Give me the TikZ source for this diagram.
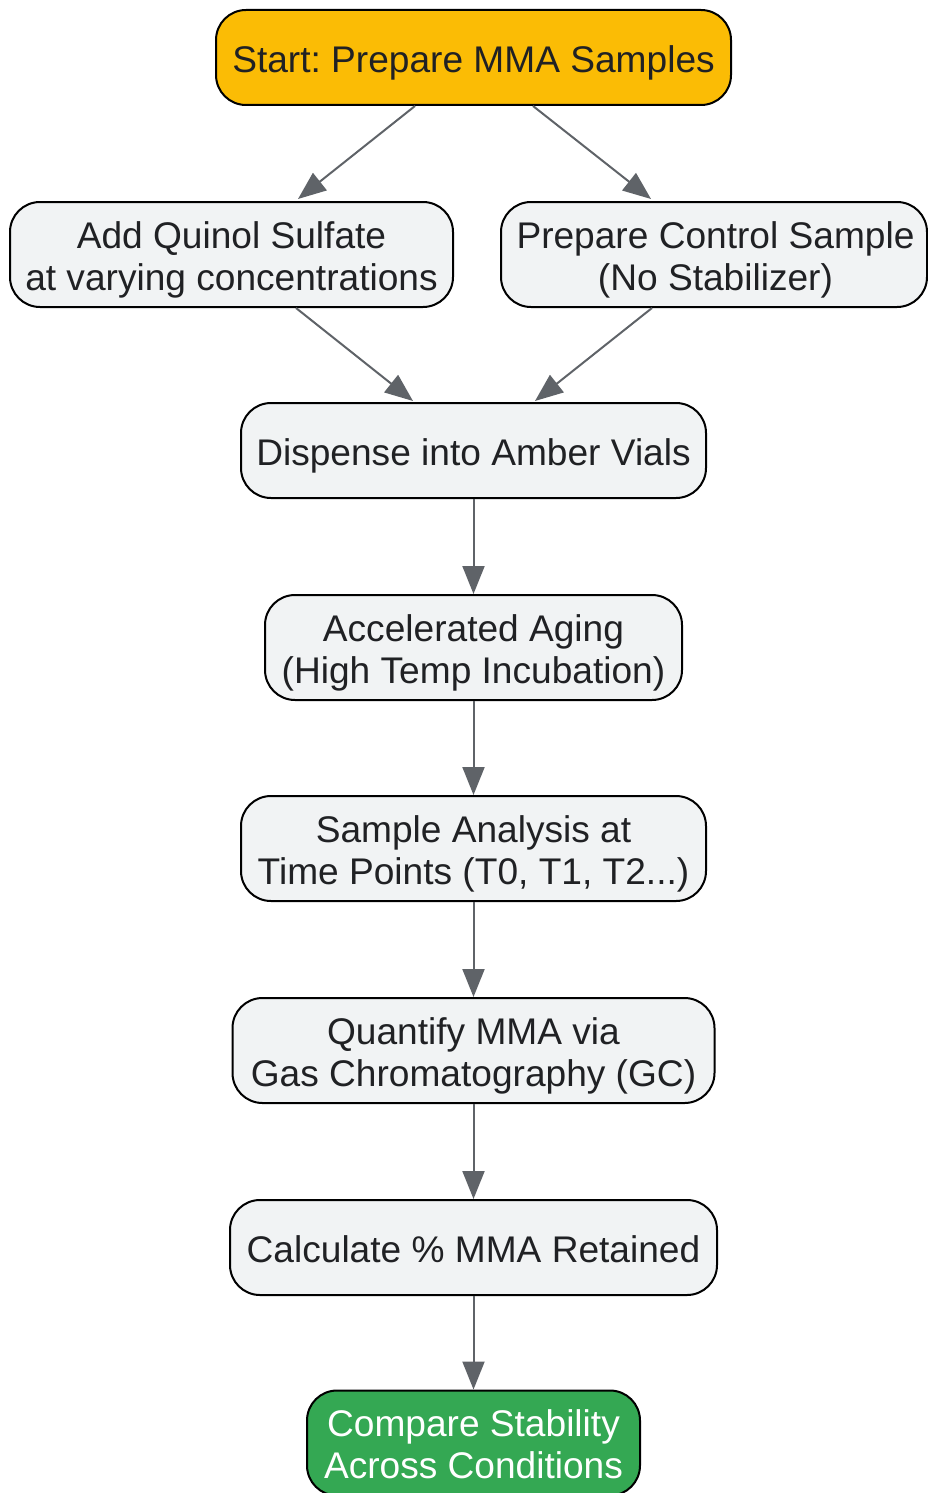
\documentclass[tikz,border=0pt]{standalone}
\usepackage{fontspec}
\setmainfont{Liberation Sans}
\usetikzlibrary{arrows.meta,calc}
\definecolor{boxfill}{HTML}{F1F3F4}
\definecolor{startfill}{HTML}{FBBC05}
\definecolor{endfill}{HTML}{34A853}
\definecolor{txt}{HTML}{202124}
\definecolor{arr}{HTML}{5F6368}
\newcommand\lowr[1]{\raisebox{-6.5pt}[\height][\depth]{\begin{tabular}{@{}c@{}}#1\end{tabular}}}
\frenchspacing
\begin{document}
\begin{tikzpicture}[x=1pt,y=-1pt,
  box/.style={draw=black,line width=2pt,rounded corners=30pt,fill=boxfill,text=txt,
    align=center,inner sep=0pt,font=\fontsize{37.1}{42}\selectfont\frenchspacing},
  flow/.style={draw=arr,line width=2pt,-{Triangle[length=28pt,width=22pt]}}]
\useasboundingbox (0,0) rectangle (927,1493);
\node[box,fill=startfill,minimum width=515pt,minimum height=95pt] (start) at (473.5,57.5) {\lowr{Start: Prepare MMA Samples}};
\node[box,minimum width=443pt,minimum height=105pt] (quinol) at (231.5,254.5) {\lowr{Add Quinol Sulfate\\at varying concentrations}};
\node[box,minimum width=426pt,minimum height=105pt] (control) at (714,254.5) {\lowr{\hspace*{3pt}Prepare Control Sample\\\hspace*{3pt}(No Stabilizer)}};
\node[box,minimum width=465pt,minimum height=95pt] (dispense) at (473.5,450.5) {\lowr{Dispense into Amber Vials}};
\node[box,minimum width=417pt,minimum height=105pt] (aging) at (473.5,647.5) {\lowr{Accelerated Aging\\(High Temp Incubation)}};
\node[box,minimum width=465pt,minimum height=105pt] (analysis) at (473.5,848.5) {\lowr{Sample Analysis at\\Time Points (T0, T1, T2...)}};
\node[box,minimum width=482pt,minimum height=105pt] (quantify) at (473.5,1050.5) {\lowr{Quantify MMA via\\Gas Chromatography (GC)}};
\node[box,minimum width=487pt,minimum height=95pt] (calc) at (473.5,1247.5) {\lowr{Calculate \% MMA Retained}};
\node[box,fill=endfill,text=white,minimum width=333pt,minimum height=105pt] (compare) at (473.5,1443) {\lowr{Compare Stability\\Across Conditions}};
\draw[flow] ($(start.south)+(-58.5,0)$) -- ($(quinol.north)+(66.5,-2)$);
\draw[flow] ($(start.south)+(59.5,0)$) -- ($(control.north)+(-63,-2)$);
\draw[flow] ($(quinol.south)+(64.5,0)$) -- ($(dispense.north)+(-60.5,-1)$);
\draw[flow] ($(control.south)+(-62,0)$) -- ($(dispense.north)+(61.5,-1)$);
\draw[flow] (dispense) -- (aging);
\draw[flow] (aging) -- (analysis);
\draw[flow] (analysis) -- (quantify);
\draw[flow] (quantify) -- (calc);
\draw[flow] (calc) -- (compare);
\end{tikzpicture}
\end{document}
